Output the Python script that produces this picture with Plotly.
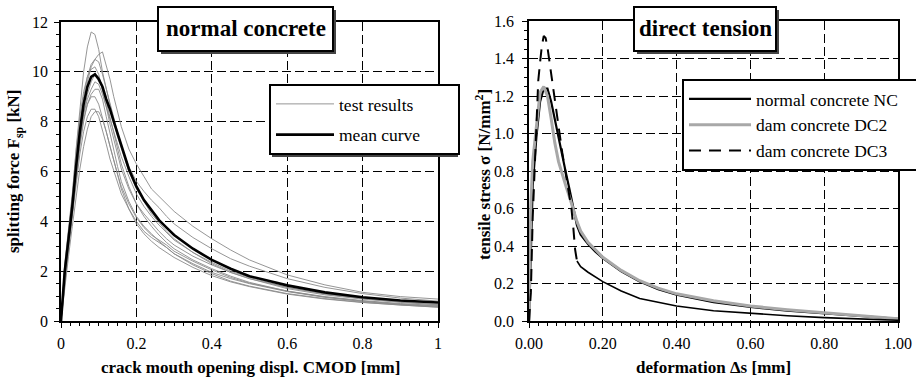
import plotly.graph_objects as go

# ---------------- data: left panel (splitting test) ----------------
cmod = [0, 0.005, 0.01, 0.02, 0.03, 0.04, 0.05, 0.06, 0.07, 0.08, 0.09, 0.10, 0.11, 0.12,
        0.13, 0.14, 0.15, 0.16, 0.18, 0.20, 0.22, 0.24, 0.26, 0.28, 0.30, 0.35, 0.40, 0.45,
        0.50, 0.60, 0.70, 0.80, 0.90, 1.00]

test_1 = [0, 1.1, 2.2, 3.6, 5.0, 6.9, 8.6, 10.0, 11.0, 11.6, 11.5, 10.9, 10.0, 9.3, 8.6, 8.0, 7.4,
          6.9, 6.0, 5.3, 4.8, 4.3, 3.95, 3.6, 3.3, 2.75, 2.3, 1.95, 1.7, 1.3, 1.05, 0.88, 0.75, 0.65]
test_2 = [0, 0.9, 1.9, 3.2, 4.5, 6.0, 7.5, 8.7, 9.6, 10.2, 10.5, 10.7, 10.8, 10.3, 9.7, 9.0, 8.4,
          7.8, 6.9, 6.3, 5.8, 5.3, 5.0, 4.7, 4.4, 3.8, 3.3, 2.85, 2.45, 1.85, 1.45, 1.15, 0.98, 0.88]
test_3 = [0, 1.0, 2.0, 3.4, 4.8, 6.4, 7.9, 9.0, 9.8, 10.3, 10.5, 10.4, 9.9, 9.3, 8.7, 8.1, 7.5,
          7.0, 6.2, 5.6, 5.2, 4.85, 4.55, 4.2, 3.9, 3.35, 2.9, 2.5, 2.2, 1.7, 1.35, 1.1, 0.92, 0.8]
test_4 = [0, 1.2, 2.3, 3.7, 5.1, 6.8, 8.2, 9.2, 9.8, 10.1, 10.2, 9.9, 9.3, 8.6, 7.9, 7.3, 6.7,
          6.1, 5.3, 4.7, 4.3, 3.95, 3.6, 3.3, 3.05, 2.6, 2.25, 1.95, 1.7, 1.35, 1.1, 0.92, 0.8, 0.72]
test_5 = [0, 0.8, 1.7, 3.0, 4.3, 5.8, 7.2, 8.3, 9.1, 9.6, 9.9, 9.8, 9.4, 8.8, 8.2, 7.5, 6.9,
          6.3, 5.4, 4.7, 4.2, 3.8, 3.45, 3.15, 2.9, 2.45, 2.1, 1.8, 1.55, 1.2, 0.98, 0.82, 0.7, 0.62]
test_6 = [0, 1.0, 2.1, 3.4, 4.6, 6.0, 7.3, 8.3, 8.9, 9.3, 9.6, 9.5, 9.1, 8.6, 8.1, 7.6, 7.1,
          6.6, 5.8, 5.1, 4.6, 4.2, 3.85, 3.55, 3.25, 2.75, 2.35, 2.0, 1.75, 1.35, 1.08, 0.9, 0.76, 0.66]
test_7 = [0, 0.9, 1.8, 3.1, 4.4, 5.8, 7.0, 8.0, 8.7, 9.1, 9.3, 9.3, 8.9, 8.2, 7.5, 6.8, 6.2,
          5.6, 4.8, 4.2, 3.8, 3.5, 3.2, 2.95, 2.7, 2.3, 1.95, 1.7, 1.5, 1.18, 0.95, 0.78, 0.66, 0.58]
test_8 = [0, 1.1, 2.0, 3.3, 4.6, 6.0, 7.2, 8.1, 8.7, 9.0, 9.0, 8.7, 8.2, 7.6, 7.0, 6.4, 5.9,
          5.4, 4.7, 4.15, 3.75, 3.45, 3.25, 3.05, 2.8, 2.4, 2.05, 1.75, 1.52, 1.2, 0.96, 0.8, 0.68, 0.6]
test_9 = [0, 0.8, 1.6, 2.9, 4.2, 5.5, 6.7, 7.6, 8.2, 8.5, 8.5, 8.2, 7.7, 7.1, 6.5, 6.0, 5.5,
          5.1, 4.5, 4.0, 3.6, 3.35, 3.15, 2.95, 2.7, 2.25, 1.9, 1.6, 1.4, 1.1, 0.9, 0.75, 0.64, 0.56]
test_10 = [0, 0.7, 1.4, 2.6, 3.8, 5.0, 6.1, 7.0, 7.7, 8.2, 8.4, 8.4, 8.1, 7.6, 7.0, 6.4, 5.8,
           5.3, 4.5, 3.9, 3.5, 3.2, 2.95, 2.75, 2.55, 2.15, 1.82, 1.57, 1.38, 1.08, 0.88, 0.74, 0.63, 0.55]
tests = [test_1, test_2, test_3, test_4, test_5, test_6, test_7, test_8, test_9, test_10]

mean_curve = [0, 1.0, 2.0, 3.3, 4.6, 6.2, 7.6, 8.7, 9.4, 9.8, 9.9, 9.7, 9.4, 8.9, 8.5, 8.0, 7.5,
              7.0, 6.1, 5.4, 4.85, 4.45, 4.05, 3.75, 3.45, 2.9, 2.45, 2.1, 1.8, 1.43, 1.15, 0.95, 0.82, 0.74]

left_xticks = [0, 0.2, 0.4, 0.6, 0.8, 1]
left_xticklabels = ["0", "0.2", "0.4", "0.6", "0.8", "1"]
left_yticks = [0, 2, 4, 6, 8, 10, 12]

# ---------------- data: right panel (direct tension) ----------------
defo = [0, 0.005, 0.01, 0.02, 0.03, 0.04, 0.05, 0.06, 0.07, 0.08, 0.09, 0.10, 0.11, 0.12, 0.13,
        0.14, 0.16, 0.18, 0.20, 0.25, 0.30, 0.35, 0.40, 0.50, 0.60, 0.70, 0.80, 0.90, 1.00]
nc_stress = [0, 0.45, 0.72, 0.98, 1.17, 1.24, 1.24, 1.17, 1.07, 0.97, 0.87, 0.79, 0.70, 0.60, 0.51,
             0.46, 0.41, 0.37, 0.335, 0.265, 0.21, 0.17, 0.14, 0.10, 0.075, 0.055, 0.04, 0.025, 0.012]
dc2_stress = [0, 0.62, 0.85, 1.05, 1.22, 1.25, 1.20, 1.08, 0.95, 0.85, 0.78, 0.72, 0.66, 0.59, 0.53,
              0.48, 0.42, 0.38, 0.34, 0.27, 0.215, 0.175, 0.145, 0.108, 0.08, 0.06, 0.045, 0.028, 0.012]
defo_dc3 = [0, 0.005, 0.01, 0.02, 0.025, 0.03, 0.035, 0.04, 0.045, 0.05, 0.06, 0.07, 0.08, 0.09,
            0.10, 0.11, 0.115, 0.12, 0.125, 0.13, 0.14, 0.16, 0.18, 0.20, 0.25, 0.30, 0.35, 0.40,
            0.50, 0.60, 0.70, 0.80, 0.90, 1.00]
dc3_stress = [0, 0.15, 0.55, 1.05, 1.28, 1.38, 1.47, 1.52, 1.51, 1.46, 1.32, 1.18, 1.03, 0.90,
              0.78, 0.67, 0.60, 0.50, 0.38, 0.32, 0.29, 0.26, 0.235, 0.21, 0.16, 0.12, 0.10, 0.08,
              0.055, 0.04, 0.028, 0.018, 0.01, 0.004]
dc3_dash_end = 0.13   # dashed part of DC3 up to this deformation, tail drawn solid

right_xticks = [0, 0.2, 0.4, 0.6, 0.8, 1.0]
right_yticks = [0, 0.2, 0.4, 0.6, 0.8, 1.0, 1.2, 1.4, 1.6]

# ---------------- figure geometry ----------------
W, H = 916, 380
L, R, T, B = 61, 898, 21, 321          # overall plotting region in pixels
SERIF = "Liberation Serif"
PW, PH = R - L, B - T
NB = "\u00a0"

def fx(p):
    return (p - L) / PW

def fy(p):
    return (B - p) / PH

fig = go.Figure()

for i, t in enumerate(tests):
    fig.add_trace(go.Scatter(
        x=cmod, y=t, mode="lines", name="test results" + NB * 9,
        legendgroup="tests", showlegend=(i == 0), line=dict(color="#8a8a8a", width=0.9),
        xaxis="x", yaxis="y", legend="legend"))
fig.add_trace(go.Scatter(
    x=cmod, y=mean_curve, mode="lines", name="mean curve", legendgroup="mean",
    line=dict(color="black", width=2.6), xaxis="x", yaxis="y", legend="legend"))

fig.add_trace(go.Scatter(
    x=defo, y=nc_stress, mode="lines", name="normal concrete NC" + NB * 4, legendgroup="nc",
    line=dict(color="black", width=2.2), xaxis="x2", yaxis="y2", legend="legend2"))
fig.add_trace(go.Scatter(
    x=defo, y=dc2_stress, mode="lines", name="dam concrete DC2", legendgroup="dc2",
    line=dict(color="#a8a8a8", width=3), xaxis="x2", yaxis="y2", legend="legend2"))
dash_x = [x for x in defo_dc3 if x <= dc3_dash_end]
dash_y = dc3_stress[:len(dash_x)]
tail_x = defo_dc3[len(dash_x) - 1:]
tail_y = dc3_stress[len(dash_x) - 1:]
fig.add_trace(go.Scatter(
    x=dash_x, y=dash_y, mode="lines", name="dam concrete DC3", legendgroup="dc3",
    line=dict(color="black", width=2, dash="12px,8px"), xaxis="x2", yaxis="y2", legend="legend2"))
fig.add_trace(go.Scatter(
    x=tail_x, y=tail_y, mode="lines", name="dam concrete DC3", legendgroup="dc3",
    showlegend=False, line=dict(color="black", width=1.6), xaxis="x2", yaxis="y2"))

tickfont = dict(family=SERIF, size=16, color="black")
axis_common = dict(
    showline=True, linecolor="black", linewidth=1.5, mirror=True,
    ticks="outside", ticklen=5, tickwidth=1.2, tickcolor="black",
    showgrid=True, gridcolor="black", gridwidth=1, griddash="9px,4px",
    zeroline=False, tickfont=tickfont, automargin=False,
)

minor_x = dict(dtick=0.025, ticklen=3, ticks="outside", tickcolor="black", showgrid=False)

fig.update_layout(
    width=W, height=H, margin=dict(l=L, r=W - R, t=T, b=H - B, autoexpand=False),
    paper_bgcolor="white", plot_bgcolor="white",
    xaxis=dict(domain=[fx(61), fx(438)], range=[0, 1], anchor="y",
               tickvals=left_xticks, ticktext=left_xticklabels, ticklabelstandoff=2,
               minor=minor_x, **axis_common),
    yaxis=dict(domain=[fy(321), fy(22)], range=[0, 12], anchor="x",
               tickvals=left_yticks, ticklabelstandoff=3,
               minor=dict(dtick=0.5, ticklen=3, ticks="outside", tickcolor="black", showgrid=False),
               **axis_common),
    xaxis2=dict(domain=[fx(529), fx(898)], range=[0, 1], anchor="y2",
                tickvals=right_xticks, tickformat=".2f", ticklabelstandoff=2,
                minor=minor_x, **axis_common),
    yaxis2=dict(domain=[fy(321), fy(21)], range=[0, 1.6], anchor="x2",
                tickvals=right_yticks, tickformat=".1f", ticklabelstandoff=5,
                minor=dict(dtick=0.05, ticklen=3, ticks="outside", tickcolor="black", showgrid=False),
                **axis_common),
    legend=dict(x=fx(269), y=fy(84), xanchor="left", yanchor="top",
                bgcolor="white", bordercolor="black", borderwidth=2,
                font=dict(family=SERIF, size=17.5, color="black"),
                itemwidth=58, tracegroupgap=5, traceorder="grouped"),
    legend2=dict(x=fx(682), y=fy(79), xanchor="left", yanchor="top",
                 bgcolor="white", bordercolor="black", borderwidth=2,
                 font=dict(family=SERIF, size=17.5, color="black"),
                 itemwidth=62, tracegroupgap=0, traceorder="grouped"),
    showlegend=True,
)

shapes = []
annotations = []

def shadow(x0, y0, x1, y1):
    shapes.append(dict(type="rect", xref="paper", yref="paper",
                       x0=fx(x0 + 3), x1=fx(x1 + 3), y0=fy(y1 + 3), y1=fy(y0 + 3),
                       fillcolor="#444", line=dict(width=0), layer="above"))

def title_box(x0, y0, x1, y1, text):
    shadow(x0, y0, x1, y1)
    shapes.append(dict(type="rect", xref="paper", yref="paper",
                       x0=fx(x0), x1=fx(x1), y0=fy(y1), y1=fy(y0),
                       fillcolor="white", line=dict(color="black", width=2), layer="above"))
    annotations.append(dict(xref="paper", yref="paper", x=fx((x0 + x1) / 2), y=fy((y0 + y1) / 2),
                            text="<b>%s</b>" % text, showarrow=False,
                            font=dict(family=SERIF, size=23, color="black"),
                            xanchor="center", yanchor="middle"))

title_box(158, 7, 333, 51, "normal concrete")
title_box(634, 7, 776, 51, "direct tension")

shadow(269, 84, 455, 154)
shadow(682, 79, 909, 167)

# axis titles
atitle = dict(family=SERIF, size=17, color="black")
annotations += [
    dict(xref="paper", yref="paper", x=fx(250), y=fy(367),
         text="<b>crack mouth opening displ. CMOD [mm]</b>", showarrow=False,
         font=atitle, xanchor="center", yanchor="middle"),
    dict(xref="paper", yref="paper", x=fx(15), y=fy(172),
         text="<b>splitting force F<sub>sp</sub> [kN]</b>", showarrow=False,
         font=atitle, xanchor="center", yanchor="middle", textangle=-90),
    dict(xref="paper", yref="paper", x=fx(713), y=fy(367),
         text="<b>deformation \u0394s [mm]</b>", showarrow=False,
         font=atitle, xanchor="center", yanchor="middle"),
    dict(xref="paper", yref="paper", x=fx(483), y=fy(174),
         text="<b>tensile stress \u03c3 [N/mm<sup>2</sup>]</b>", showarrow=False,
         font=atitle, xanchor="center", yanchor="middle", textangle=-90),
]

fig.update_layout(shapes=shapes, annotations=annotations)

fig.write_html("out.html", config={"displayModeBar": False},
               post_script="document.body.style.margin='0px';document.body.style.overflow='hidden';")
